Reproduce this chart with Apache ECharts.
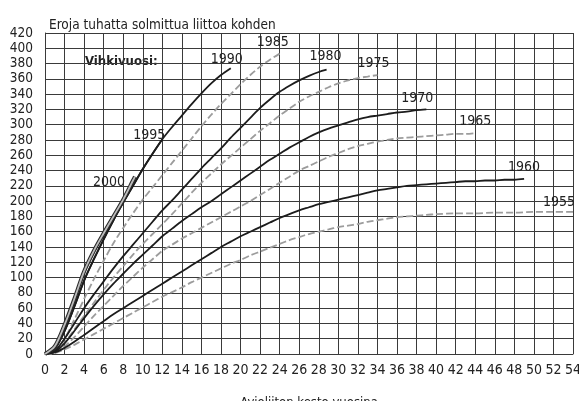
<!DOCTYPE html>
<html>
<head>
<meta charset="utf-8">
<script src="https://cdn.jsdelivr.net/npm/echarts@6/dist/echarts.min.js"></script>
<style>
html,body{margin:0;padding:0;background:#fff;}
#chart{width:579px;height:401px;}
</style>
</head>
<body>
<div id="chart"></div>
<script>
// ---- data (duration of marriage in years, divorces per 1000 marriages) ----
const titleText = 'Eroja tuhatta solmittua liittoa kohden';
const xAxisName = 'Avioliiton kesto vuosina';
const legendTitle = 'Vihkivuosi:';

const yrs2000 = [0,1,2,3,4,5,6,7,8,9,9.2];
const val2000 = [0,10,38,72,108,135,158,180,202,227,232];

const yrs1995 = [0,1,2,3,4,5,6,7,8,9,10,11,12];
const val1995 = [0,7,30,62,96,124,150,175,198,220,242,262,281];

const yrs1990 = [0,1,2,3,4,5,6,7,8,9,10,11,12,13,14,15,16,17,18,19];
const val1990 = [0,7,30,62,96,124,150,175,198,220,242,262,281,297,312,327,341,354,365,374];

const yrs1985 = [0,1,2,3,4,5,6,7,8,9,10,11,12,13,14,15,16,17,18,19,20,21,22,23,24];
const val1985 = [0,4,20,45,72,98,122,145,165,184,202,218,234,250,266,282,298,313,327,340,353,365,376,385,393];

const yrs1980 = [0,1,2,3,4,5,6,7,8,9,10,11,12,13,14,15,16,17,18,19,20,21,22,23,24,25,26,27,28,28.8];
const val1980 = [0,4,20,40,60,78,95,112,128,143,158,173,188,201,215,229,243,256,269,283,296,309,322,333,343,351,358,364,369,372];

const yrs1975 = [0,1,2,3,4,5,6,7,8,9,10,11,12,13,14,15,16,17,18,19,20,21,22,23,24,25,26,27,28,29,30,31,32,33,34];
const val1975 = [0,3,15,32,50,67,84,100,115,130,144,157,170,183,197,211,224,236,248,259,270,281,292,302,312,321,330,337,343,349,354,358,361,363,365];

const yrs1970 = [0,1,2,3,4,5,6,7,8,9,10,11,12,13,14,15,16,17,18,19,20,21,22,23,24,25,26,27,28,29,30,31,32,33,34,35,36,37,38,39];
const val1970 = [0,3,14,30,47,63,78,92,105,118,130,142,154,164,174,183,192,200,209,218,227,236,245,254,262,270,277,284,290,295,299,303,307,310,312,314,316,317,319,320];

const yrs1965 = [0,1,2,3,4,5,6,7,8,9,10,11,12,13,14,15,16,17,18,19,20,21,22,23,24,25,26,27,28,29,30,31,32,33,34,35,36,37,38,39,40,41,42,43,44];
const val1965 = [0,2,10,22,36,50,63,76,89,101,113,124,135,143,151,158,165,172,179,186,193,200,208,216,224,232,240,246,252,258,263,268,272,275,278,280,282,283,284,285,286,287,288,288,289];

const yrs1960 = [0,1,2,3,4,5,6,7,8,9,10,11,12,13,14,15,16,17,18,19,20,21,22,23,24,25,26,27,28,29,30,31,32,33,34,35,36,37,38,39,40,41,42,43,44,45,46,47,48,49];
const val1960 = [0,2,8,16,25,34,43,52,60,68,76,84,92,100,108,116,124,132,140,147,154,160,166,172,178,183,188,192,196,199,202,205,208,211,214,216,218,220,221,222,223,224,225,226,226,227,227,228,228,229];

const yrs1955 = [0,1,2,3,4,5,6,7,8,9,10,11,12,13,14,15,16,17,18,19,20,21,22,23,24,25,26,27,28,29,30,31,32,33,34,35,36,37,38,39,40,42,44,46,48,50,52,54];
const val1955 = [0,1,6,12,19,26,33,40,47,54,61,68,75,81,87,94,100,106,112,118,123,129,134,139,144,149,153,157,160,163,166,168,170,173,175,177,179,180,181,182,183,184,184,185,185,186,186,186];

// ---- build ----
function pairs(xs, ys){ return xs.map((x,i)=>[x, ys[i]]); }
const FONT = "'DejaVu Sans Condensed','Liberation Sans Narrow','Liberation Sans',sans-serif";
const BLACK = '#1c1c1c', GRAY = '#9c9c9c';

function curve(name, xs, ys, kind, off){
  const data = pairs(xs, ys);
  const last = data[data.length-1];
  return {
    name: name, type: 'line', data: data, smooth: 0.3, symbol: 'none', z: kind==='black'?4:3,
    lineStyle: kind==='black'
      ? {color: BLACK, width: 1.8}
      : {color: GRAY, width: 1.8, type: [7,3]},
    markPoint: {
      symbol: 'circle', symbolSize: 0, silent: true,
      data: [{coord: last, value: name}],
      label: {show: true, position: 'inside', offset: off, formatter: name,
              fontFamily: FONT, fontSize: 14, color: '#222'}
    }
  };
}

const series = [
  curve('1955', yrs1955, val1955, 'gray', [-14,-9]),
  curve('1960', yrs1960, val1960, 'black', [0,-12]),
  curve('1965', yrs1965, val1965, 'gray', [0,-12]),
  curve('1970', yrs1970, val1970, 'black', [-9,-11]),
  curve('1975', yrs1975, val1975, 'gray', [-4,-12]),
  curve('1980', yrs1980, val1980, 'black', [-1,-13]),
  curve('1985', yrs1985, val1985, 'gray', [-7,-11]),
  curve('1995', yrs1995, val1995, 'black', [-13,-4]),
  curve('1990', yrs1990, val1990, 'black', [-4,-9]),
  {name:'2000 outline', type:'line', data: pairs(yrs2000, val2000), smooth:0.3, symbol:'none', z:5,
   lineStyle:{color:'#2a2a2a', width:4}},
  curve('2000', yrs2000, val2000, 'gray', [-26,6])
];
series[series.length-1].lineStyle = {color:'#bdbdbd', width:1.8};
series[series.length-1].z = 6;

const chart = echarts.init(document.getElementById('chart'), null, {renderer:'canvas'});
chart.setOption({
  animation: false,
  backgroundColor: '#fff',
  title: {text: titleText, left: 44, top: 13,
          textStyle:{fontFamily: FONT, fontSize: 13.5, fontWeight: 'normal', color:'#222'}},
  graphic: [{type:'text', left: 85, top: 55,
             style:{text: legendTitle, fontFamily: FONT, fontSize: 13, fontWeight:'bold', fill:'#222'}}],
  grid: {left: 45, right: 6, top: 33, bottom: 47, containLabel: false, outerBoundsMode: 'none'},
  xAxis: {type:'value', min:0, max:54, interval:2,
          name: xAxisName, nameLocation:'middle', nameGap: 42,
          nameTextStyle:{fontFamily: FONT, fontSize: 13, color:'#222'},
          axisLine:{show:true, lineStyle:{color:'#3a3a3a', width:1}},
          axisTick:{show:false},
          axisLabel:{margin: 9, fontFamily: FONT, fontSize: 14, color:'#222'},
          splitLine:{show:true, lineStyle:{color:'#3a3a3a', width:1}}},
  yAxis: {type:'value', min:0, max:420, interval:20,
          axisLine:{show:true, lineStyle:{color:'#3a3a3a', width:1}},
          axisTick:{show:false},
          axisLabel:{margin: 12, fontFamily: FONT, fontSize: 13.5, color:'#222'},
          splitLine:{show:true, lineStyle:{color:'#3a3a3a', width:1}}},
  series: series
});
</script>
</body>
</html>
